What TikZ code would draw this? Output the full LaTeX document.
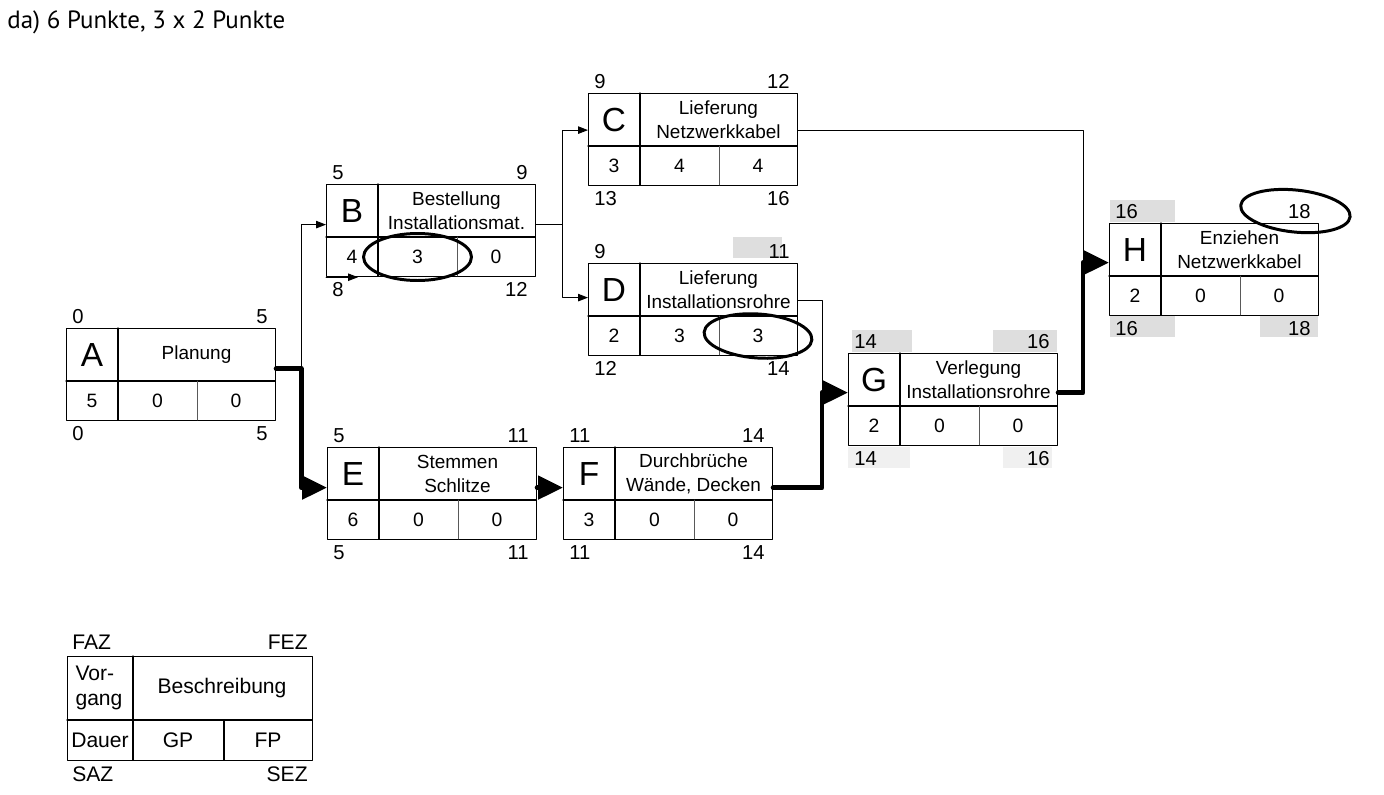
\documentclass[tikz,border=0pt]{standalone}
\usepackage{fontspec}
\setmainfont{Liberation Sans}
\newfontfamily\titlefont{PT Sans}
\usetikzlibrary{arrows.meta}
\usetikzlibrary{calc}

\begin{document}
\begin{tikzpicture}[x=0.02cm, y=-0.02cm, line cap=round, line join=round]

	% Colors (scan halftone behind some times)
	\definecolor{halftone}{RGB}{222,222,222}
	\definecolor{halftoneL}{RGB}{240,240,240}

	\tikzset{
		frame/.style={draw=black, line width=0.7pt, minimum width=4.18cm, minimum height=1.84cm, anchor=north west, inner sep=0pt},
		divider/.style={line width=0.6pt},
		softdiv/.style={line width=0.5pt, draw=black!65},
		letter/.style={font=\fontsize{19}{19}\selectfont},
		desc/.style={font=\fontsize{10.8}{13.5}\selectfont, align=center},
		num/.style={font=\fontsize{11}{11}\selectfont},
		time/.style={font=\fontsize{11.5}{11.5}\selectfont, inner sep=0pt},
		legtext/.style={font=\fontsize{12}{14.5}\selectfont, align=left},
		thinline/.style={line width=0.55pt},
		thinarr/.style={thinline, -{Triangle[length=0.2cm, width=0.15cm]}},
		critarr/.style={line width=2.8pt, -{Triangle[length=0.5cm, width=0.46cm]}},
		ring/.style={line width=1.7pt},
	}

	\useasboundingbox (0,0) rectangle (1384,795);

	% --- Title
	\node[anchor=base west, inner sep=0pt, font=\titlefont\fontsize{14.2}{15}\selectfont] (title) at (7,28) {da) 6 Punkte, 3 x 2 Punkte};

	% --- Halftone patches of the scan
	\fill[halftone] (733,237) rectangle (782,258);
	\fill[halftone] (852,330) rectangle (912,352);
	\fill[halftone] (993,330) rectangle (1057,352);
	\fill[halftoneL] (848,447) rectangle (910,468);
	\fill[halftoneL] (1003,447) rectangle (1052,468);
	\fill[halftone] (1110,200) rectangle (1175,222);
	\fill[halftone] (1110,316) rectangle (1175,337);
	\fill[halftone] (1260,316) rectangle (1318,337);

	% --- Activities: name/x/y/text/duration/GP/FP/FAZ/FEZ/SAZ/SEZ
	\foreach \n/\x/\y/\txt/\d/\gp/\fp/\faz/\fez/\saz/\sez in {
		A/66/328/{Planung}/5/0/0/0/5/0/5,
		B/326/184/{Bestellung\\Installationsmat.}/4/3/0/5/9/8/12,
		C/588/93/{Lieferung\\Netzwerkkabel}/3/4/4/9/12/13/16,
		D/588/263/{Lieferung\\Installationsrohre}/2/3/3/9/11/12/14,
		E/327/447/{Stemmen\\Schlitze}/6/0/0/5/11/5/11,
		F/563/447/{Durchbrüche\\Wände, Decken}/3/0/0/11/14/11/14,
		G/848/353/{Verlegung\\Installationsrohre}/2/0/0/14/16/14/16,
		H/1109/223/{Enziehen\\Netzwerkkabel}/2/0/0/16/18/16/18}{
		\node[frame] (\n) at (\x,\y) {};
		\draw[divider] (\x,\y+53) -- (\x+209,\y+53);
		\draw[divider] (\x+52,\y) -- (\x+52,\y+92);
		\draw[softdiv] (\x+131,\y+53) -- (\x+131,\y+92);
		\node[letter] (\n-id) at (\x+26,\y+27) {\n};
		\node[desc] (\n-txt) at (\x+130.5,\y+27) {\txt};
		\node[num] (\n-dur) at (\x+26,\y+73) {\d};
		\node[num] (\n-gp) at (\x+91.5,\y+73) {\gp};
		\node[num] (\n-fp) at (\x+170,\y+73) {\fp};
		\node[time, anchor=base west] (\n-faz) at (\x+6,\y-5) {\faz};
		\node[time, anchor=base east] (\n-fez) at (\x+202,\y-5) {\fez};
		\node[time, anchor=north west] (\n-saz) at (\x+6,\y+98) {\saz};
		\node[time, anchor=north east] (\n-sez) at (\x+202,\y+98) {\sez};
	}

	% --- A splits into B and E
	\coordinate (jA) at ($([yshift=.12cm]A.east)+(25,0)$);
	\draw[critarr] ([yshift=.12cm]A.east) -- (jA) |- ([yshift=.12cm]E.west);
	\draw[thinarr] (jA) |- ([yshift=.12cm]B.west);

	% --- B splits into C and D
	\coordinate (jB) at ($([yshift=.12cm]B.east)+(26,0)$);
	\draw[thinline] ([yshift=.12cm]B.east) -- (jB);
	\draw[thinarr] (jB) |- ([yshift=.19cm]C.west);
	\draw[thinarr] (jB) |- ([yshift=.24cm]D.west);
	\coordinate (Btick) at ($(B.south west)+(32,0)$);
	\draw[thinarr] (B.south west) -- (Btick);

	% --- C and D join the critical path
	\coordinate (jG) at ($([yshift=.14cm]G.west)+(-26,0)$);
	\coordinate (jH) at ($([yshift=.14cm]H.west)+(-26,0)$);
	\draw[thinline] ([yshift=.19cm]C.east) -| (jH);
	\draw[thinline] ([yshift=.18cm]D.east) -| (jG);

	% --- critical path
	\draw[critarr] ([yshift=.12cm]E.east) -- ([yshift=.12cm]F.west);
	\draw[critarr] ([yshift=.12cm]F.east) -| (jG) -- ([yshift=.14cm]G.west);
	\draw[critarr] ([yshift=.14cm]G.east) -| (jH) -- ([yshift=.14cm]H.west);

	% --- marked values
	\draw[ring] (B-gp) ellipse [x radius=1.08cm, y radius=0.47cm];
	\draw[ring, rotate around={-4:(D-fp)}] (D-fp) ellipse [x radius=1.08cm, y radius=0.44cm];
	\coordinate (Hmark) at ($(H-fez)+(-4,0)$);
	\draw[ring, rotate around={-6:(Hmark)}] (Hmark) ellipse [x radius=1.1cm, y radius=0.42cm];

	% --- Legend
	\node[frame, minimum width=4.9cm, minimum height=2.08cm] (legend) at (67,656) {};
	\draw[divider] (67,720) -- (312,720);
	\draw[divider] (133,656) -- (133,760);
	\draw[divider] (224,720) -- (224,760);
	\node[legtext] (leg-id) at (99,688) {Vor-\\gang};
	\node[legtext] (leg-txt) at (222,688) {Beschreibung};
	\node[legtext] (leg-dur) at (100,740) {Dauer};
	\node[legtext] (leg-gp) at (178,740) {GP};
	\node[legtext] (leg-fp) at (268,740) {FP};
	\node[legtext, inner sep=0pt, anchor=base west] (leg-faz) at (72,649) {FAZ};
	\node[legtext, inner sep=0pt, anchor=base east] (leg-fez) at (308,649) {FEZ};
	\node[legtext, inner sep=0pt, anchor=north west] (leg-saz) at (72,766) {SAZ};
	\node[legtext, inner sep=0pt, anchor=north east] (leg-sez) at (308,766) {SEZ};

\end{tikzpicture}
\end{document}
